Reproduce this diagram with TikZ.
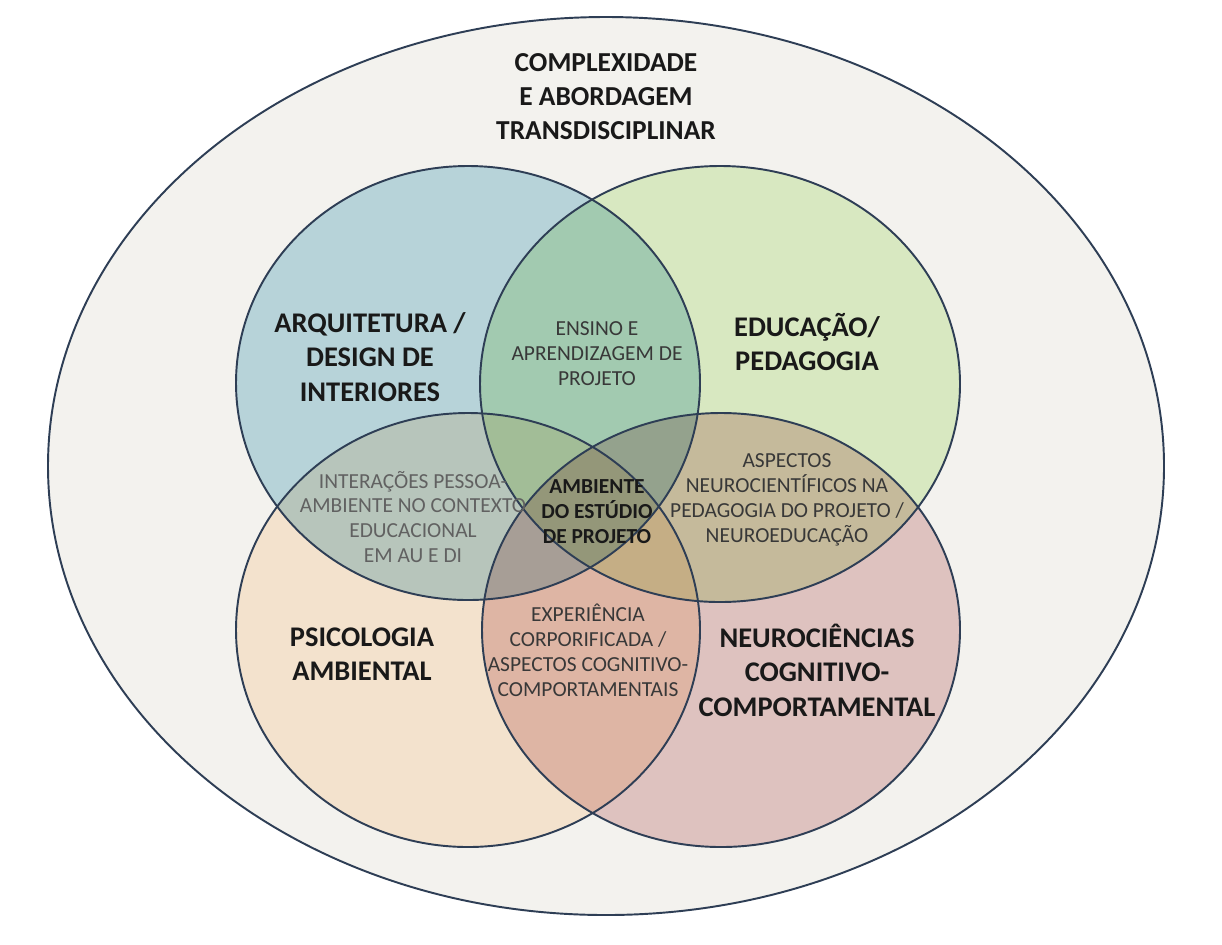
\documentclass[tikz,border=0pt]{standalone}
\usepackage{fontspec}
\setmainfont{Carlito}
\usetikzlibrary{positioning}

\definecolor{ringline}{HTML}{2E3E55}
\definecolor{outerbg}{HTML}{F3F2EE}
\definecolor{archfill}{HTML}{C1DFE9}
\definecolor{edufill}{HTML}{E3F5CF}
\definecolor{psyfill}{HTML}{FFEFDC}
\definecolor{neurofill}{HTML}{E9CDCD}

\tikzset{
  ring/.style={draw=ringline,line width=1.1pt},
  biglabel/.style={align=center,text=black!90,font=\bfseries\fontsize{16.2}{19.6}\selectfont},
  smalllabel/.style={align=center,text=black!78,font=\fontsize{12.2}{14.2}\selectfont},
}

\begin{document}
\begin{tikzpicture}[x=0.02cm,y=-0.02cm]
  \useasboundingbox (0,0) rectangle (1222,944);
  \fill[white] (0,0) rectangle (1222,944);
  \draw[ring,fill=outerbg] (606,466) ellipse [x radius=558,y radius=449];
  % the four fields
  \begin{scope}[blend mode=multiply]
    \fill[archfill]  (468,383) ellipse [x radius=232,y radius=217];
    \fill[edufill]   (720,384) ellipse [x radius=240,y radius=218];
    \fill[psyfill]   (468,630) ellipse [x radius=232,y radius=217];
    \fill[neurofill] (721,630) ellipse [x radius=239,y radius=217];
  \end{scope}
  \draw[ring] (468,383) ellipse [x radius=232,y radius=217];
  \draw[ring] (720,384) ellipse [x radius=240,y radius=218];
  \draw[ring] (468,630) ellipse [x radius=232,y radius=217];
  \draw[ring] (721,630) ellipse [x radius=239,y radius=217];

  \node[biglabel,font=\bfseries\fontsize{15.6}{19.3}\selectfont] (title) at (606,97) {COMPLEXIDADE\\E ABORDAGEM\\TRANSDISCIPLINAR};
  \node[biglabel] (arch) at (370,357) {ARQUITETURA /\\DESIGN DE\\INTERIORES};
  \node[biglabel] (edu) at (807,342) {EDUCAÇÃO/\\PEDAGOGIA};
  \node[biglabel] (psy) at (362,654) {PSICOLOGIA\\AMBIENTAL};
  \node[biglabel] (neuro) at (817,670) {NEUROCIÊNCIAS\\COGNITIVO-\\COMPORTAMENTAL};

  \node[smalllabel] (ensino) at (597,354) {ENSINO E\\APRENDIZAGEM DE\\PROJETO};
  \node[smalllabel,text=black!62] (interacoes) at (413,517) {INTERAÇÕES PESSOA-\\AMBIENTE NO CONTEXTO\\EDUCACIONAL\\EM AU E DI};
  \node[smalllabel,text=black!90,font=\bfseries\fontsize{12.2}{14.2}\selectfont] (estudio) at (597,512) {AMBIENTE\\DO ESTÚDIO\\DE PROJETO};
  \node[smalllabel] (aspectos) at (787,500) {ASPECTOS\\NEUROCIENTÍFICOS NA\\PEDAGOGIA DO PROJETO /\\NEUROEDUCAÇÃO};
  \node[smalllabel] (experiencia) at (588,650) {EXPERIÊNCIA\\CORPORIFICADA /\\ASPECTOS COGNITIVO-\\COMPORTAMENTAIS};
\end{tikzpicture}
\end{document}
